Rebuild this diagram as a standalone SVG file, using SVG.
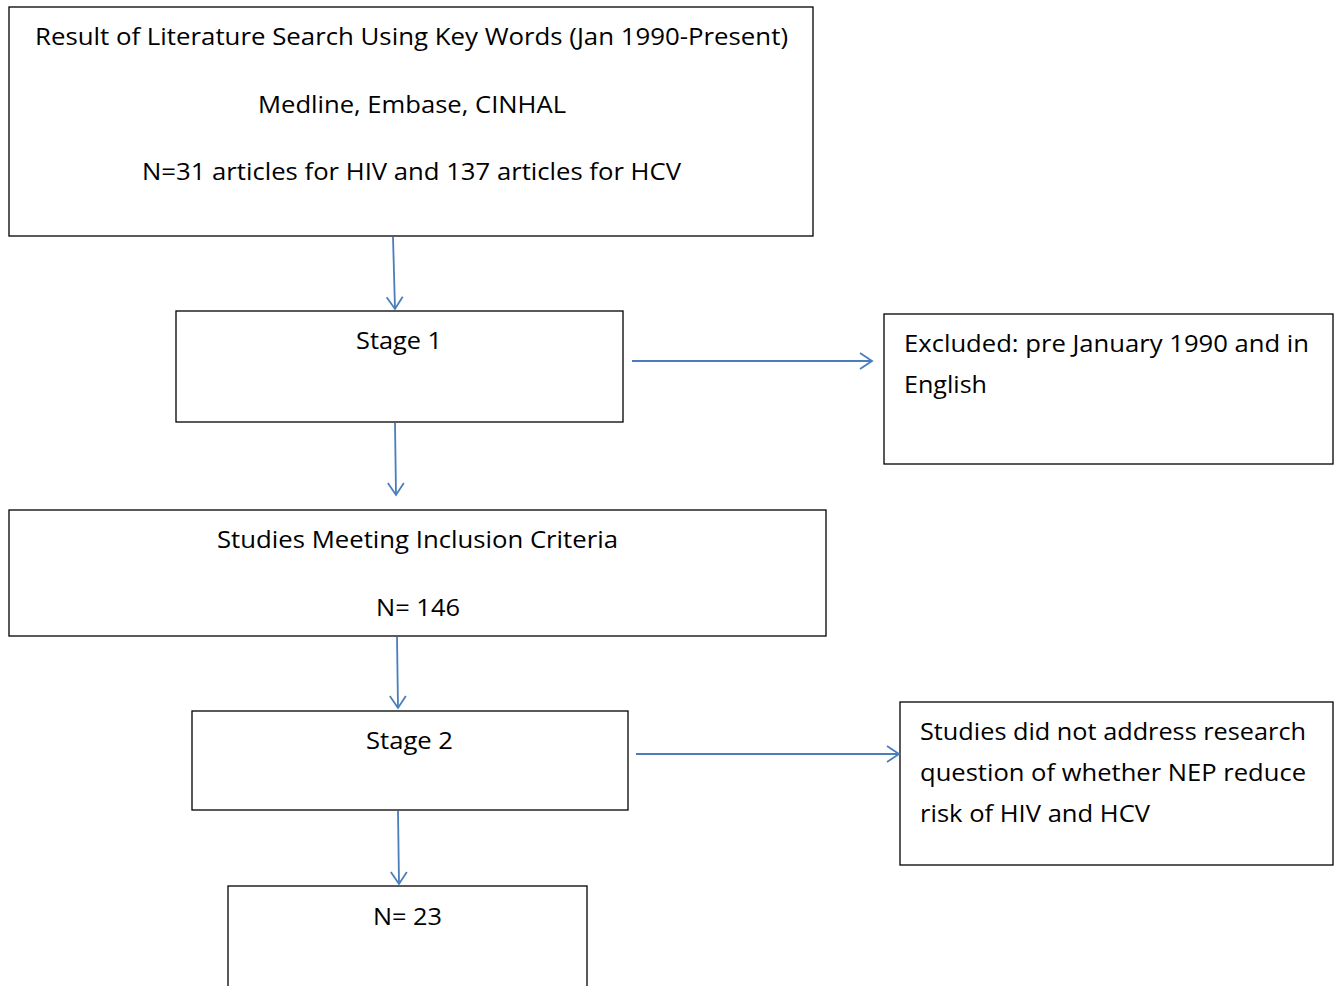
<svg xmlns="http://www.w3.org/2000/svg" width="1340" height="986" viewBox="0 0 1340 986">
<defs>
<marker id="arr" markerWidth="20" markerHeight="20" refX="13" refY="9" orient="auto" markerUnits="userSpaceOnUse">
<path d="M1,1 L13,9 L1,17" fill="none" stroke="#4a7ebb" stroke-width="1.8"/>
</marker>
<style>
.box{fill:#fff;stroke:#000;stroke-width:1.3}
.t{font-family:"Open Sans","Noto Sans",sans-serif;font-size:23px;fill:#000}
.c{text-anchor:middle}
.con line{stroke:#4a7ebb;stroke-width:1.8;marker-end:url(#arr)}
</style>
</defs>
<rect width="1340" height="986" fill="#fff"/>
<g id="search">
<rect class="box" x="9" y="7" width="804" height="229"/>
<text class="t" x="35" y="45" textLength="753" lengthAdjust="spacingAndGlyphs">Result of Literature Search Using Key Words (Jan 1990-Present)</text>
<text class="t" x="258" y="113" textLength="308" lengthAdjust="spacingAndGlyphs">Medline, Embase, CINHAL</text>
<text class="t" x="142" y="180" textLength="539" lengthAdjust="spacingAndGlyphs">N=31 articles for HIV and 137 articles for HCV</text>
</g>
<g id="stage1">
<rect class="box" x="176" y="311" width="447" height="111"/>
<text class="t" x="356" y="349" textLength="86" lengthAdjust="spacingAndGlyphs">Stage 1</text>
</g>
<g id="excluded">
<rect class="box" x="884" y="314" width="449" height="150"/>
<text class="t" x="904" y="352" textLength="405" lengthAdjust="spacingAndGlyphs">Excluded: pre January 1990 and in</text>
<text class="t" x="904" y="393" textLength="83" lengthAdjust="spacingAndGlyphs">English</text>
</g>
<g id="inclusion">
<rect class="box" x="9" y="510" width="817" height="126"/>
<text class="t" x="217" y="548" textLength="401" lengthAdjust="spacingAndGlyphs">Studies Meeting Inclusion Criteria</text>
<text class="t" x="376" y="616" textLength="84" lengthAdjust="spacingAndGlyphs">N= 146</text>
</g>
<g id="stage2">
<rect class="box" x="192" y="711" width="436" height="99"/>
<text class="t" x="366" y="749" textLength="87" lengthAdjust="spacingAndGlyphs">Stage 2</text>
</g>
<g id="notaddress">
<rect class="box" x="900" y="702" width="433" height="163"/>
<text class="t" x="920" y="740" textLength="386" lengthAdjust="spacingAndGlyphs">Studies did not address research</text>
<text class="t" x="920" y="781" textLength="386" lengthAdjust="spacingAndGlyphs">question of whether NEP reduce</text>
<text class="t" x="920" y="822" textLength="230" lengthAdjust="spacingAndGlyphs">risk of HIV and HCV</text>
</g>
<g id="final">
<rect class="box" x="228" y="886" width="359" height="110"/>
<text class="t" x="373" y="925" textLength="69" lengthAdjust="spacingAndGlyphs">N= 23</text>
</g>
<g id="connectors" class="con">
<line x1="393" y1="237" x2="395" y2="309"/>
<line x1="395" y1="423" x2="396" y2="495"/>
<line x1="397" y1="637" x2="398" y2="708"/>
<line x1="398" y1="811" x2="399" y2="884"/>
<line x1="632" y1="361" x2="872" y2="361"/>
<line x1="636" y1="754" x2="899" y2="754"/>
</g>
</svg>
